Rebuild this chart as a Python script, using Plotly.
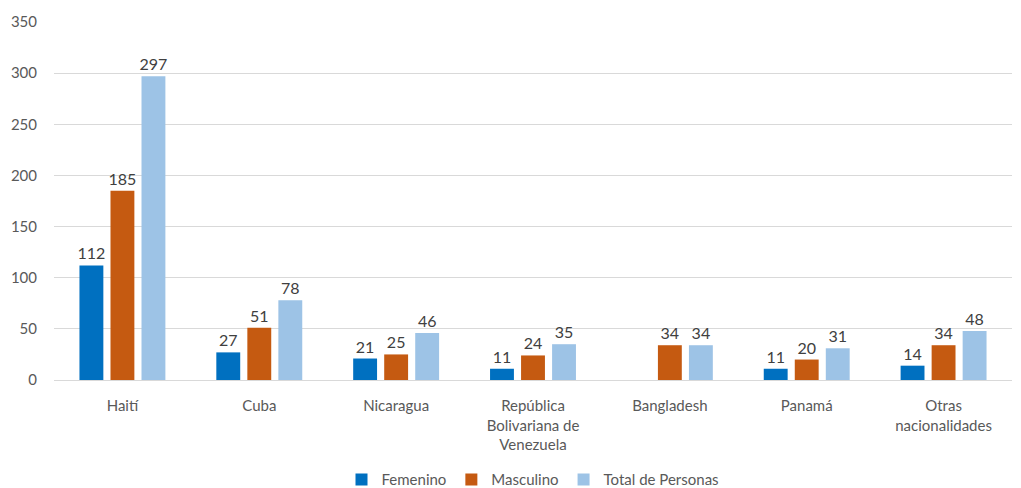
import plotly.graph_objects as go

categories = ["Haití", "Cuba", "Nicaragua", "República<br>Bolivariana de<br>Venezuela",
              "Bangladesh", "Panamá", "Otras<br>nacionalidades"]
femenino = [112, 27, 21, 11, None, 11, 14]
masculino = [185, 51, 25, 24, 34, 20, 34]
total = [297, 78, 46, 35, 34, 31, 48]

series = [("Femenino", femenino, "#0070C0"),
          ("Masculino", masculino, "#C55A11"),
          ("Total de Personas", total, "#9DC3E6")]

FONT = "Lato, Open Sans, sans-serif"
fig = go.Figure()
for name, vals, color in series:
    fig.add_trace(go.Bar(
        name=name, x=categories, y=vals, marker=dict(color=color, line=dict(width=0)),
        text=[("" if v is None else str(v)) for v in vals],
        textposition="outside", cliponaxis=False, constraintext="none",
        textfont=dict(family=FONT, size=16, color="#404040"),
    ))

fig.update_layout(
    width=1013, height=480,
    margin=dict(l=46, r=9, t=14, b=108, autoexpand=False),
    paper_bgcolor="white", plot_bgcolor="white",
    barmode="group", bargap=0.32, bargroupgap=0.23,
    font=dict(family=FONT, size=15, color="#595959"),
    showlegend=True,
    legend=dict(orientation="h", x=0.5, xanchor="center", yref="container", y=0.017,
                yanchor="middle",
                font=dict(family=FONT, size=15, color="#595959"),
                itemwidth=30, traceorder="normal"),
    xaxis=dict(showgrid=False, showline=True, linecolor="#D9D9D9", linewidth=1,
               ticks="", automargin=False, ticklabelstandoff=12,
               tickfont=dict(size=15, color="#595959")),
    yaxis=dict(range=[0, 350], dtick=50, showgrid=True, gridcolor="#D9D9D9", gridwidth=1,
               zeroline=False, showline=False, ticks="", ticklabelstandoff=16, automargin=False,
               tickfont=dict(size=15, color="#595959")),
)

fig.write_html("out.html")
